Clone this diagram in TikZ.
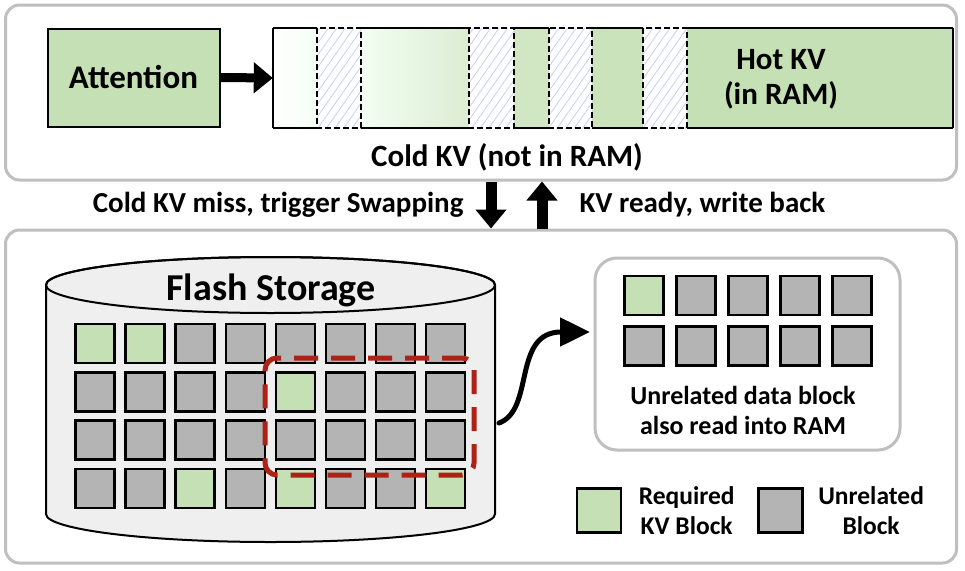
\documentclass[tikz,border=0pt]{standalone}
\usepackage{fontspec}
\setmainfont{Carlito}
\usetikzlibrary{arrows.meta,patterns.meta,positioning}

\definecolor{kvgreen}{HTML}{C5E0B4}
\definecolor{blkgray}{HTML}{B4B4B4}
\definecolor{panelgray}{HTML}{BFBFBF}
\definecolor{cylfill}{HTML}{EFEFEF}
\definecolor{swapred}{HTML}{B02115}
\definecolor{hatchblue}{HTML}{C6D0F4}

\tikzset{
  panel/.style={draw=panelgray, line width=3pt, rounded corners=14pt, fill=white},
  blk/.style={draw=black, line width=2.5pt, minimum width=39pt, minimum height=39pt, inner sep=0pt},
  req/.style={blk, fill=kvgreen},
  unrel/.style={blk, fill=blkgray},
  hatched/.style={pattern={Lines[angle=55,distance=7pt,line width=0.8pt]}, pattern color=hatchblue},
  fat/.style={line width=11pt, -{Triangle[length=19pt,width=30pt]}},
  lbl/.style={font=\bfseries\fontsize{31}{35}\selectfont, align=center},
  midlbl/.style={font=\bfseries\fontsize{29}{33}\selectfont, align=center},
  smalllbl/.style={font=\bfseries\fontsize{25.5}{30}\selectfont, align=center},
}

\begin{document}
\begin{tikzpicture}[x=1pt,y=-1pt]
\useasboundingbox (0,0) rectangle (965,570);
% --- Panels ---
\node[panel, minimum width=951pt, minimum height=175pt] (top) at (481,92.5) {};
\node[panel, minimum width=951pt, minimum height=333pt] (bottom) at (481,396.5) {};

% --- Attention and KV cache ---
\node[draw, line width=2pt, fill=kvgreen, minimum width=172pt, minimum height=98pt, lbl,
      font=\bfseries\fontsize{33}{37}\selectfont] (attn) at (133.5,77.5) {Attention};
\node[minimum width=680pt, minimum height=100pt, inner sep=0pt] (bar) at (613,78) {};
\foreach \a/\b/\cl/\cr in {273/317/white/green!4!white, 361/469/green!5!white/kvgreen!60!white,
                           514/549/kvgreen!80!white/kvgreen!80!white, 592/643/kvgreen!90!white/kvgreen!92!white,
                           687/953/kvgreen/kvgreen} {
  \shade[left color=\cl, right color=\cr] (\a,28) rectangle (\b,128);
  \draw[line width=1.5pt] (\a,28) -- (\b,28) (\a,128) -- (\b,128);
}
\draw[line width=1.5pt] (bar.north west) -- (bar.south west) (bar.north east) -- (bar.south east);
% evicted (cold) slots
\foreach \a/\b in {317/361, 469/514, 549/592, 643/687} {
  \fill[white] (\a,28) rectangle (\b,128);
  \fill[hatched] (\a,28) rectangle (\b,128);
  \draw[line width=1.5pt, dash pattern=on 6pt off 3pt] (\a,28) rectangle (\b,128);
}
\node[lbl] (hot) at (781,79) {Hot KV\\(in RAM)};
\node[lbl] (cold) at (507,157) {Cold KV (not in RAM)};
\draw[fat, line width=9pt] (attn.east) -- (bar.west);

% --- Swapping between RAM and flash ---
\draw[fat] ([xshift=10pt]top.south) -- ([xshift=10pt]bottom.north);
\draw[fat] ([xshift=61pt]bottom.north) -- ([xshift=61pt]top.south);
\node[midlbl, anchor=east] (miss) at (467,205) {Cold KV miss, trigger Swapping};
\node[midlbl, anchor=west] (ready) at (576,205) {KV ready, write back};

% --- Flash storage ---
\filldraw[fill=cylfill, line width=2pt] (46,285) -- (46,514)
  arc[start angle=180, end angle=0, x radius=224.5, y radius=28] -- (495,285)
  arc[start angle=0, end angle=-180, x radius=224.5, y radius=28] -- cycle;
\draw[line width=2pt] (270.5,285) ellipse [x radius=224.5, y radius=28];
\node[font=\bfseries\fontsize{38}{40}\selectfont] (flash) at (271,290) {Flash Storage};
\foreach \row [count=\r from 0] in {{req,req,unrel,unrel,unrel,unrel,unrel,unrel},
                                    {unrel,unrel,unrel,unrel,req,unrel,unrel,unrel},
                                    {unrel,unrel,unrel,unrel,unrel,unrel,unrel,unrel},
                                    {unrel,unrel,req,unrel,req,unrel,unrel,req}} {
  \foreach \s [count=\c from 0] in \row {
    \node[\s] (f-\r-\c) at (95+50.1*\c, 343.5+48.3*\r) {};
  }
}
% page read by the swap
\node[draw=swapred, line width=5pt, dash pattern=on 24pt off 13pt, dash phase=4pt, rounded corners=12pt,
      minimum width=209pt, minimum height=117pt] (page) at (369.5,416.5) {};

% --- Data brought into RAM ---
\node[draw=panelgray, line width=3pt, rounded corners=22pt, minimum width=305pt, minimum height=192pt] (ram) at (747.5,354) {};
\foreach \row [count=\r from 0] in {{req,unrel,unrel,unrel,unrel},{unrel,unrel,unrel,unrel,unrel}} {
  \foreach \s [count=\c from 0] in \row {
    \node[\s] (m-\r-\c) at (644+52*\c, 295.5+50.5*\r) {};
  }
}
\node[smalllbl, font=\bfseries\fontsize{26}{30}\selectfont] (ramlbl) at (743,410) {Unrelated data block\\also read into RAM};
\coordinate (out) at (499,423);
\coordinate (in) at (590,332);
\draw[line width=5pt, line cap=round, -{Triangle[length=30pt,width=28pt]}]
  (out) .. controls (535,410) and (512,332) .. (in);

% --- Legend ---
\node[req, minimum width=44pt, minimum height=44pt] (legreq) at (599,510.5) {};
\node[smalllbl, right=13pt of legreq] (legreqlbl) {Required\\KV Block};
\node[unrel, minimum width=44pt, minimum height=44pt] (legun) at (780.5,510.5) {};
\node[smalllbl, right=11pt of legun] (legunlbl) {Unrelated\\Block};
\end{tikzpicture}
\end{document}
